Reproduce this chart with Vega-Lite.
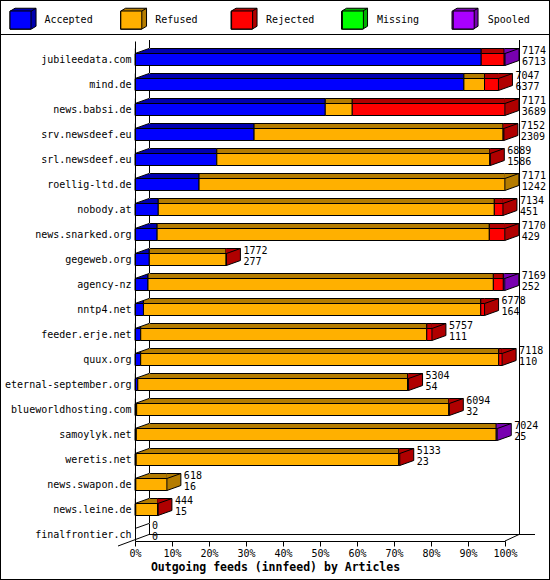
{
  "$schema": "https://vega.github.io/schema/vega-lite/v6.json",
  "width": 550,
  "height": 580,
  "padding": 0,
  "autosize": {"type": "none"},
  "background": "white",
  "datasets": {
    "segs": [
      {"host": "jubileedata.com", "cat": "Accepted", "n": 6713},
      {"host": "jubileedata.com", "cat": "Rejected", "n": 446},
      {"host": "jubileedata.com", "cat": "Spooled", "n": 15},
      {"host": "mind.de", "cat": "Accepted", "n": 6377},
      {"host": "mind.de", "cat": "Refused", "n": 400},
      {"host": "mind.de", "cat": "Rejected", "n": 270},
      {"host": "news.babsi.de", "cat": "Accepted", "n": 3689},
      {"host": "news.babsi.de", "cat": "Refused", "n": 523},
      {"host": "news.babsi.de", "cat": "Rejected", "n": 2959},
      {"host": "srv.newsdeef.eu", "cat": "Accepted", "n": 2309},
      {"host": "srv.newsdeef.eu", "cat": "Refused", "n": 4828},
      {"host": "srv.newsdeef.eu", "cat": "Rejected", "n": 15},
      {"host": "srl.newsdeef.eu", "cat": "Accepted", "n": 1586},
      {"host": "srl.newsdeef.eu", "cat": "Refused", "n": 5293},
      {"host": "srl.newsdeef.eu", "cat": "Rejected", "n": 10},
      {"host": "roellig-ltd.de", "cat": "Accepted", "n": 1242},
      {"host": "roellig-ltd.de", "cat": "Refused", "n": 5929},
      {"host": "nobody.at", "cat": "Accepted", "n": 451},
      {"host": "nobody.at", "cat": "Refused", "n": 6516},
      {"host": "nobody.at", "cat": "Rejected", "n": 167},
      {"host": "news.snarked.org", "cat": "Accepted", "n": 429},
      {"host": "news.snarked.org", "cat": "Refused", "n": 6441},
      {"host": "news.snarked.org", "cat": "Rejected", "n": 300},
      {"host": "gegeweb.org", "cat": "Accepted", "n": 277},
      {"host": "gegeweb.org", "cat": "Refused", "n": 1490},
      {"host": "gegeweb.org", "cat": "Rejected", "n": 5},
      {"host": "agency-nz", "cat": "Accepted", "n": 252},
      {"host": "agency-nz", "cat": "Refused", "n": 6696},
      {"host": "agency-nz", "cat": "Rejected", "n": 194},
      {"host": "agency-nz", "cat": "Spooled", "n": 27},
      {"host": "nntp4.net", "cat": "Accepted", "n": 164},
      {"host": "nntp4.net", "cat": "Refused", "n": 6540},
      {"host": "nntp4.net", "cat": "Rejected", "n": 74},
      {"host": "feeder.erje.net", "cat": "Accepted", "n": 111},
      {"host": "feeder.erje.net", "cat": "Refused", "n": 5546},
      {"host": "feeder.erje.net", "cat": "Rejected", "n": 100},
      {"host": "quux.org", "cat": "Accepted", "n": 110},
      {"host": "quux.org", "cat": "Refused", "n": 6942},
      {"host": "quux.org", "cat": "Rejected", "n": 66},
      {"host": "eternal-september.org", "cat": "Accepted", "n": 54},
      {"host": "eternal-september.org", "cat": "Refused", "n": 5230},
      {"host": "eternal-september.org", "cat": "Rejected", "n": 20},
      {"host": "blueworldhosting.com", "cat": "Accepted", "n": 32},
      {"host": "blueworldhosting.com", "cat": "Refused", "n": 6052},
      {"host": "blueworldhosting.com", "cat": "Rejected", "n": 10},
      {"host": "samoylyk.net", "cat": "Accepted", "n": 25},
      {"host": "samoylyk.net", "cat": "Refused", "n": 6979},
      {"host": "samoylyk.net", "cat": "Spooled", "n": 20},
      {"host": "weretis.net", "cat": "Accepted", "n": 23},
      {"host": "weretis.net", "cat": "Refused", "n": 5090},
      {"host": "weretis.net", "cat": "Rejected", "n": 20},
      {"host": "news.swapon.de", "cat": "Accepted", "n": 16},
      {"host": "news.swapon.de", "cat": "Refused", "n": 602},
      {"host": "news.leine.de", "cat": "Accepted", "n": 15},
      {"host": "news.leine.de", "cat": "Refused", "n": 426},
      {"host": "news.leine.de", "cat": "Rejected", "n": 3}
    ],
    "hosts": [
      {"host": "jubileedata.com", "total": 7174, "accepted": 6713, "last": "Spooled"},
      {"host": "mind.de", "total": 7047, "accepted": 6377, "last": "Rejected"},
      {"host": "news.babsi.de", "total": 7171, "accepted": 3689, "last": "Rejected"},
      {"host": "srv.newsdeef.eu", "total": 7152, "accepted": 2309, "last": "Rejected"},
      {"host": "srl.newsdeef.eu", "total": 6889, "accepted": 1586, "last": "Rejected"},
      {"host": "roellig-ltd.de", "total": 7171, "accepted": 1242, "last": "Refused"},
      {"host": "nobody.at", "total": 7134, "accepted": 451, "last": "Rejected"},
      {"host": "news.snarked.org", "total": 7170, "accepted": 429, "last": "Rejected"},
      {"host": "gegeweb.org", "total": 1772, "accepted": 277, "last": "Rejected"},
      {"host": "agency-nz", "total": 7169, "accepted": 252, "last": "Spooled"},
      {"host": "nntp4.net", "total": 6778, "accepted": 164, "last": "Rejected"},
      {"host": "feeder.erje.net", "total": 5757, "accepted": 111, "last": "Rejected"},
      {"host": "quux.org", "total": 7118, "accepted": 110, "last": "Rejected"},
      {"host": "eternal-september.org", "total": 5304, "accepted": 54, "last": "Rejected"},
      {"host": "blueworldhosting.com", "total": 6094, "accepted": 32, "last": "Rejected"},
      {"host": "samoylyk.net", "total": 7024, "accepted": 25, "last": "Spooled"},
      {"host": "weretis.net", "total": 5133, "accepted": 23, "last": "Rejected"},
      {"host": "news.swapon.de", "total": 618, "accepted": 16, "last": "Refused"},
      {"host": "news.leine.de", "total": 444, "accepted": 15, "last": "Rejected"},
      {"host": "finalfrontier.ch", "total": 0, "accepted": 0, "last": null}
    ]
  },
  "encoding": {
    "y": {
      "field": "host",
      "type": "nominal",
      "scale": {
        "domain": ["jubileedata.com", "mind.de", "news.babsi.de", "srv.newsdeef.eu", "srl.newsdeef.eu", "roellig-ltd.de", "nobody.at", "news.snarked.org", "gegeweb.org", "agency-nz", "nntp4.net", "feeder.erje.net", "quux.org", "eternal-september.org", "blueworldhosting.com", "samoylyk.net", "weretis.net", "news.swapon.de", "news.leine.de", "finalfrontier.ch"],
        "range": [41, 541],
        "paddingInner": 0,
        "paddingOuter": 0
      },
      "axis": {
        "title": null,
        "ticks": false,
        "labelPadding": 4,
        "labelOffset": 6,
        "offset": -135,
        "zindex": 1
      }
    }
  },
  "layer": [
    {
      "layer": [
        {
          "data": {"name": "hosts"},
          "transform": [{"filter": "datum.host == 'finalfrontier.ch'"}],
          "layer": [
            {
              "mark": {"type": "rule", "color": "black", "strokeWidth": 1, "xOffset": 14.5, "yOffset": -13.5, "y2Offset": 6},
              "encoding": {
                "x": {"datum": 0, "type": "quantitative"},
                "y": {"datum": "jubileedata.com", "type": "nominal"},
                "y2": {"datum": "finalfrontier.ch"}
              }
            },
            {
              "mark": {"type": "rule", "color": "black", "strokeWidth": 1, "xOffset": 14.5, "yOffset": -13.5, "y2Offset": 6},
              "encoding": {
                "x": {"datum": 7174, "type": "quantitative"},
                "y": {"datum": "jubileedata.com", "type": "nominal"},
                "y2": {"datum": "finalfrontier.ch"}
              }
            },
            {
              "mark": {"type": "rule", "color": "black", "strokeWidth": 1, "xOffset": 14, "x2Offset": 30, "yOffset": 6},
              "encoding": {
                "x": {"datum": 0, "type": "quantitative"},
                "x2": {"datum": 7174},
                "y": {"field": "host", "type": "nominal"}
              }
            },
            {
              "mark": {"type": "point", "shape": "M-17,17.5L14,6", "size": 4, "filled": false, "stroke": "black", "strokeWidth": 1, "opacity": 1},
              "encoding": {
                "x": {"datum": 0, "type": "quantitative"},
                "y": {"field": "host", "type": "nominal"}
              }
            },
            {
              "mark": {"type": "point", "shape": "M0,12.5L14,6", "size": 4, "filled": false, "stroke": "black", "strokeWidth": 1, "opacity": 1},
              "encoding": {
                "x": {"datum": 7174, "type": "quantitative"},
                "y": {"field": "host", "type": "nominal"}
              }
            }
          ]
        },
        {
          "data": {"name": "segs"},
          "mark": {"type": "bar", "size": 5, "yOffset": -2.5, "stroke": "black", "strokeWidth": 1},
          "encoding": {
            "x": {"field": "n", "type": "quantitative", "stack": "zero"},
            "order": {"field": "cat", "sort": "ascending"},
            "fill": {
              "field": "cat",
              "type": "nominal",
              "scale": {
                "domain": ["Accepted", "Refused", "Rejected", "Missing", "Spooled", "~"],
                "range": ["#0000b0", "#b47c00", "#b00000", "#00b000", "#7800b0", "#000000"]
              },
              "legend": {
                "values": ["Accepted", "Refused", "Rejected", "Missing", "Spooled"],
                "orient": "none",
                "legendX": 0,
                "legendY": 0,
                "direction": "horizontal",
                "columns": 5,
                "gridAlign": "all",
                "title": null,
                "padding": 6.5,
                "symbolType": "M-1,-0.62L-0.52,-0.905L1.48,-0.905L1.48,0.81L1,1.095L-1,1.095ZM1,-0.62L1.48,-0.905",
                "symbolSize": 441,
                "symbolStrokeColor": "black",
                "symbolStrokeWidth": 1,
                "symbolOpacity": 1,
                "symbolOffset": 3,
                "labelOffset": 0,
                "columnPadding": 78.5,
                "labelFontSize": 10,
                "labelExpr": "''",
                "zindex": 1
              }
            }
          }
        },
        {
          "data": {"name": "hosts"},
          "transform": [{"filter": "datum.total > 0"}],
          "mark": {"type": "point", "shape": "M-0.6,-5L14,-5L14,7L0,12L0,0.5L-0.6,0.5Z", "size": 4, "filled": true, "strokeWidth": 0, "opacity": 1},
          "encoding": {
            "x": {"field": "total", "type": "quantitative"},
            "fill": {
              "field": "last",
              "type": "nominal",
              "scale": {
                "domain": ["Accepted", "Refused", "Rejected", "Missing", "Spooled", "~"],
                "range": ["#0000b0", "#b47c00", "#b00000", "#00b000", "#7800b0", "#000000"]
              }
            }
          }
        },
        {
          "data": {"name": "segs"},
          "mark": {"type": "bar", "size": 12, "yOffset": 6, "stroke": "black", "strokeWidth": 1},
          "encoding": {
            "x": {
              "field": "n",
              "type": "quantitative",
              "stack": "zero",
              "scale": {"domain": [0, 7174], "range": [135, 505], "nice": false, "zero": true},
              "axis": {
                "orient": "bottom",
                "values": [0, 717.4, 1434.8, 2152.2, 2869.6, 3587, 4304.4, 5021.8, 5739.2, 6456.6, 7174],
                "labelExpr": "format(datum.value / 71.74, '.0f') + '%'",
                "offset": -39,
                "tickSize": 5,
                "labelPadding": 2,
                "labelFlush": false,
                "labelOverlap": false,
                "title": "Outgoing feeds (innfeed) by Articles",
                "titleFontWeight": "bold",
                "titleFontSize": 11.5,
                "titleX": 275,
                "titleY": 26,
                "titleAlign": "center",
                "titleBaseline": "middle",
                "zindex": 1
              }
            },
            "order": {"field": "cat", "sort": "ascending"},
            "color": {
              "field": "cat",
              "type": "nominal",
              "scale": {
                "domain": ["Accepted", "Refused", "Rejected", "Missing", "Spooled"],
                "range": ["#0000ff", "#ffb000", "#ff0000", "#00ff00", "#aa00ff"]
              },
              "legend": {
                "orient": "none",
                "legendX": 0,
                "legendY": 2.5,
                "direction": "horizontal",
                "columns": 5,
                "gridAlign": "all",
                "title": null,
                "padding": 6.5,
                "symbolType": "M-1,-0.857L1,-0.857L1,0.857L-1,0.857Z",
                "symbolSize": 441,
                "symbolStrokeColor": "black",
                "symbolStrokeWidth": 1,
                "symbolOpacity": 1,
                "symbolOffset": 3,
                "labelOffset": 13,
                "columnPadding": 23.8,
                "labelFontSize": 10,
                "zindex": 2
              }
            }
          }
        },
        {
          "data": {"name": "hosts"},
          "transform": [{"filter": "datum.total > 0"}],
          "mark": {"type": "point", "shape": "M0,-5L14,-5L14,7L0,12M0,0L14,-5", "size": 4, "filled": false, "stroke": "black", "strokeWidth": 1, "opacity": 1},
          "encoding": {
            "x": {"field": "total", "type": "quantitative"}
          }
        },
        {
          "data": {"name": "hosts"},
          "mark": {"type": "point", "shape": "M-0.6,-5.6L15.7,-5.6L-0.6,0.2Z", "size": 4, "filled": true, "fill": "white", "strokeWidth": 0, "opacity": 1},
          "encoding": {
            "x": {"datum": 0, "type": "quantitative"}
          }
        },
        {
          "data": {"name": "hosts"},
          "mark": {"type": "point", "shape": "M0,0L14,-5", "size": 4, "filled": false, "stroke": "black", "strokeWidth": 1, "opacity": 1},
          "encoding": {
            "x": {"datum": 0, "type": "quantitative"}
          }
        },
        {
          "data": {"name": "hosts"},
          "mark": {"type": "text", "align": "left", "baseline": "middle", "xOffset": 17, "yOffset": -3, "fontSize": 10, "color": "black"},
          "encoding": {
            "x": {"field": "total", "type": "quantitative"},
            "text": {"field": "total", "type": "quantitative", "format": "d"}
          }
        },
        {
          "data": {"name": "hosts"},
          "mark": {"type": "text", "align": "left", "baseline": "middle", "xOffset": 17, "yOffset": 8, "fontSize": 10, "color": "black"},
          "encoding": {
            "x": {"field": "total", "type": "quantitative"},
            "text": {"field": "accepted", "type": "quantitative", "format": "d"}
          }
        }
      ]
    },
    {
      "data": {"name": "hosts"},
      "mark": {"type": "point", "opacity": 0},
      "encoding": {
        "x": {
          "field": "total",
          "type": "quantitative",
          "scale": {"domain": [0, 1], "range": [0, 550], "nice": false},
          "axis": {
            "orient": "top",
            "offset": -34,
            "ticks": false,
            "labels": false,
            "title": null,
            "domainColor": "black",
            "zindex": 1
          }
        }
      }
    }
  ],
  "resolve": {"scale": {"x": "independent"}},
  "config": {
    "font": "DejaVu Sans Mono",
    "view": {"stroke": "black", "strokeWidth": 2},
    "axis": {
      "grid": false,
      "domainColor": "black",
      "tickColor": "black",
      "labelColor": "black",
      "labelFontSize": 10,
      "titleColor": "black"
    },
    "legend": {"labelColor": "black"}
  }
}
